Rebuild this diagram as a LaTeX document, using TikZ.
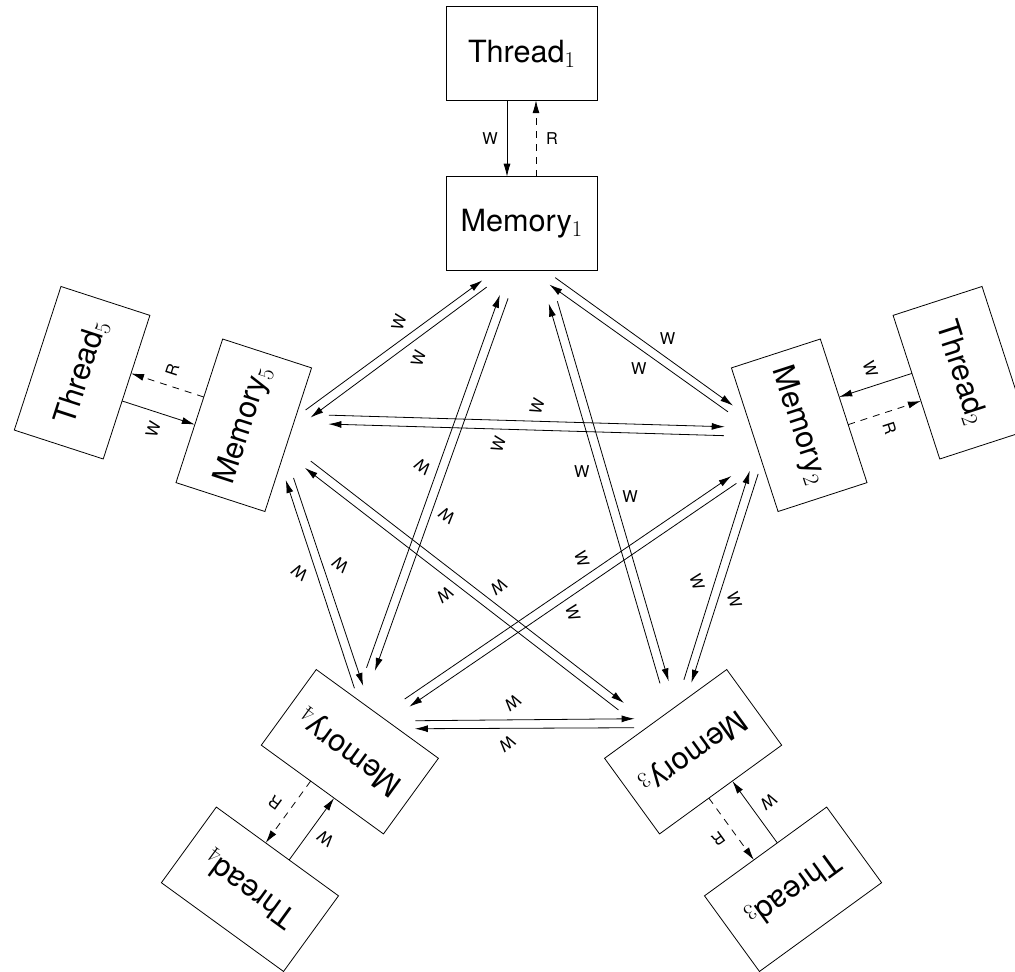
\documentclass[tikz,border=0pt]{standalone}
\usepackage{fontspec}
\setsansfont{TeX Gyre Heros}
\usetikzlibrary{calc,arrows.meta}
\newcommand{\idx}[1]{\raisebox{-5pt}{\rmfamily\fontsize{22.5}{22.5}\selectfont #1}}
\tikzset{
  box/.style={draw, line width=0.8pt, minimum width=151pt, minimum height=93.5pt,
    inner sep=0pt, outer sep=0pt, font=\sffamily\fontsize{30.6}{36}\selectfont},
  arr/.style={line width=0.8pt, -{Latex[length=13pt,width=7pt]}},
  rarr/.style={arr, dash pattern=on 7pt off 6pt},
  lbl/.style={font=\sffamily\fontsize{16.3}{18}\selectfont, inner sep=0pt},
}
\begin{document}
\begin{tikzpicture}[x=1pt,y=1pt]
\useasboundingbox (-521.5,-456.5) rectangle (493.5,515.5);
% nodes
\foreach \k in {1,...,5}{
  \pgfmathsetmacro\ang{90-72*(\k-1)}
  \pgfmathsetmacro\rot{-72*(\k-1)}
  \node[box, rotate=\rot] (M\k) at (\ang:292) {Memory\idx{\k}};
  \node[box, rotate=\rot] (T\k) at (\ang:462) {Thread\idx{\k}};
}
% connectors
\foreach \k in {1,...,5}{
  \pgfmathsetmacro\rot{-72*(\k-1)}
  \pgfmathtruncatemacro\j{mod(\k,5)+1}
  \pgfmathtruncatemacro\l{mod(\k+1,5)+1}
  % thread <-> memory
  \draw[arr] ($(T\k.south)!14.5pt!(T\k.south west)$) -- ($(M\k.north)!14.5pt!(M\k.north west)$);
  \draw[rarr] ($(M\k.north)!14.5pt!(M\k.north east)$) -- ($(T\k.south)!14.5pt!(T\k.south east)$);
  \node[lbl, rotate=\rot] (tw\k) at ($(M\k.north)!0.5!(T\k.south)!31.5pt!90:(T\k.south)$) {W};
  \node[lbl, rotate=\rot] (tr\k) at ($(M\k.north)!0.5!(T\k.south)!30.5pt!-90:(T\k.south)$) {R};
  % adjacent pair k <-> j
  \draw[arr] ($(M\k)!59pt!(M\j)!24pt!-90:(M\j)$) -- ($(M\j)!65pt!(M\k)!23pt!90:(M\k)$);
  \draw[arr] ($(M\j)!65.5pt!(M\k)!31pt!90:(M\k)$) -- ($(M\k)!58.5pt!(M\j)!33pt!-90:(M\j)$);
  \node[lbl, rotate=\rot] (aa\k) at ($(M\k)!186pt!(M\j)!7.6pt!-90:(M\j)$) {W};
  \node[lbl, rotate=\rot] (ab\k) at ($(M\k)!180.5pt!(M\j)!48.7pt!-90:(M\j)$) {W};
  % diagonal pair k <-> l
  \draw[arr] ($(M\k)!85pt!(M\l)!10.1pt!90:(M\l)$) -- ($(M\l)!74.5pt!(M\k)!1.5pt!90:(M\k)$);
  \draw[arr] ($(M\l)!75.3pt!(M\k)!10.4pt!90:(M\k)$) -- ($(M\k)!84.6pt!(M\l)!1.2pt!90:(M\l)$);
  \node[lbl, rotate=\rot] (da\k) at ($(M\k)!293.3pt!(M\l)!18.8pt!90:(M\l)$) {W};
  \node[lbl, rotate=\rot] (db\k) at ($(M\k)!254.6pt!(M\l)!19.4pt!-90:(M\l)$) {W};
}
\end{tikzpicture}
\end{document}
